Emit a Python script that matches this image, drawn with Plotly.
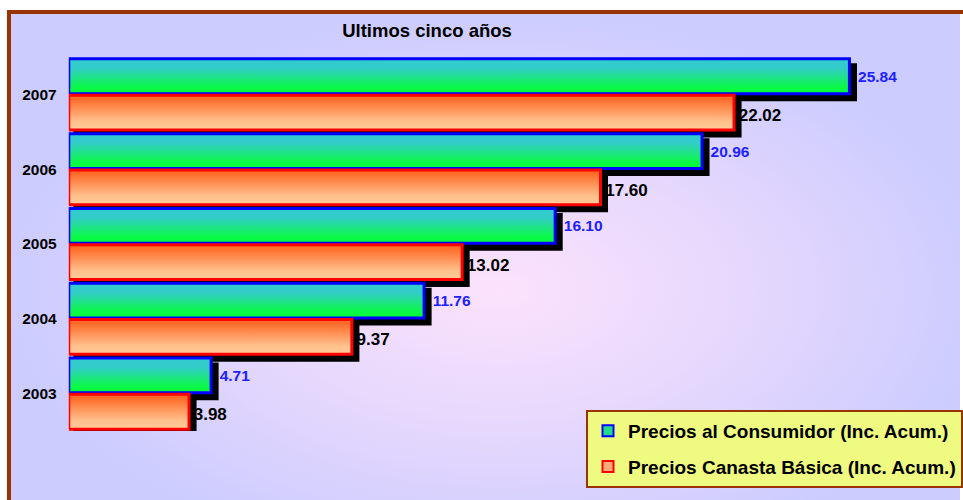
import plotly.graph_objects as go

# data
years = ["2003", "2004", "2005", "2006", "2007"]
consumidor = [4.71, 11.76, 16.10, 20.96, 25.84]
canasta = [3.98, 9.37, 13.02, 17.60, 22.02]
name_consumidor = "Precios al Consumidor (Inc. Acum.)"
name_canasta = "Precios Canasta Básica (Inc. Acum.)"

FONT = "Arial, Liberation Sans, sans-serif"
HALF = 0.475      # bar thickness in category units
GAP = 0.01
SH_X, SH_Y = 0.2, 0.08   # drop shadow offset

green_scale = [[0, "#00FF33"], [0.2, "#0CF84A"], [0.75, "#33CCCC"], [1, "#33CCCC"]]
orange_scale = [[0, "#FFCC99"], [0.25, "#FFC08C"], [0.9, "#FF6A28"], [1, "#FF6A28"]]

pos = list(range(len(years)))

fig = go.Figure()

# background with radial lavender/pink gradient (pixel-like axes)
fig.add_trace(go.Scatter(
    x=[9, 991, 991, 9, 9], y=[12, 12, 568, 568, 12],
    mode="lines", fill="toself", line=dict(width=0),
    fillgradient=dict(type="radial",
                      colorscale=[[0, "#FCE2FC"], [0.5, "#E6D8FD"], [1, "#CCCCFF"]]),
    hoverinfo="skip", showlegend=False, xaxis="x", yaxis="y"))


def rect(v, y0, y1, dx=0.0, dy=0.0):
    return [dx, v + dx, v + dx, dx, dx], [y0 + dy, y0 + dy, y1 + dy, y1 + dy, y0 + dy]


# shadows first
for i, p in enumerate(pos):
    for v, y0, y1 in [(consumidor[i], p + GAP, p + HALF), (canasta[i], p - HALF, p - GAP)]:
        xs, ys = rect(v, y0, y1, SH_X, -SH_Y)
        fig.add_trace(go.Scatter(x=xs, y=ys, mode="lines", fill="toself",
                                 fillcolor="black", line=dict(color="black", width=3),
                                 hoverinfo="skip", showlegend=False,
                                 xaxis="x2", yaxis="y2"))

# gradient bars
for i, p in enumerate(pos):
    xs, ys = rect(consumidor[i], p + GAP, p + HALF)
    fig.add_trace(go.Scatter(x=xs, y=ys, mode="lines", fill="toself",
                             fillgradient=dict(type="vertical", colorscale=green_scale),
                             line=dict(color="#0000FF", width=3),
                             name=name_consumidor, showlegend=False,
                             xaxis="x2", yaxis="y2"))
    xs, ys = rect(canasta[i], p - HALF, p - GAP)
    fig.add_trace(go.Scatter(x=xs, y=ys, mode="lines", fill="toself",
                             fillgradient=dict(type="vertical", colorscale=orange_scale),
                             line=dict(color="#FF0000", width=3),
                             name=name_canasta, showlegend=False,
                             xaxis="x2", yaxis="y2"))

# value labels
fig.add_trace(go.Scatter(
    x=consumidor, y=[p + 0.22 for p in pos], mode="text",
    text=["  " + f"{v:.2f}" for v in consumidor], textposition="middle right",
    textfont=dict(family=FONT, size=15.5, color="#2020FF", weight="bold"),
    showlegend=False, hoverinfo="skip", xaxis="x2", yaxis="y2"))
fig.add_trace(go.Scatter(
    x=canasta, y=[p - 0.30 for p in pos], mode="text",
    text=[" " + f"{v:.2f}" for v in canasta], textposition="middle right",
    textfont=dict(family=FONT, size=17, color="black", weight="bold"),
    showlegend=False, hoverinfo="skip", xaxis="x2", yaxis="y2"))

# legend entries
fig.add_trace(go.Scatter(x=[None], y=[None], mode="markers", name=name_consumidor,
                         legendgroup="a",
                         marker=dict(symbol="square", size=11, color="#22DD88",
                                     line=dict(color="#0000FF", width=2)),
                         xaxis="x2", yaxis="y2"))
fig.add_trace(go.Scatter(x=[None], y=[None], mode="markers", name=name_canasta,
                         legendgroup="b",
                         marker=dict(symbol="square", size=11, color="#FFAA77",
                                     line=dict(color="#FF0000", width=2)),
                         xaxis="x2", yaxis="y2"))

fig.update_layout(
    width=963, height=500,
    margin=dict(l=0, r=0, t=0, b=0),
    paper_bgcolor="white", plot_bgcolor="rgba(0,0,0,0)",
    font=dict(family=FONT, color="black"),
    title=dict(text="<b>Ultimos cinco años</b>", x=427 / 963, y=1 - 31 / 500,
               xanchor="center", yanchor="middle",
               font=dict(family=FONT, size=18.5, color="black")),
    xaxis=dict(domain=[0, 1], range=[0, 963], visible=False, fixedrange=True),
    yaxis=dict(domain=[0, 1], range=[500, 0], visible=False, fixedrange=True),
    xaxis2=dict(domain=[69 / 963, 1], range=[0, 29.5], anchor="y2",
                showgrid=False, zeroline=False, showticklabels=False),
    yaxis2=dict(domain=[1 - 431 / 500, 1 - 57 / 500], range=[-0.5, 4.5], anchor="x2",
                tickvals=pos, ticktext=years, ticks="outside", ticklen=8,
                tickcolor="rgba(0,0,0,0)", showgrid=False, zeroline=False,
                showline=False,
                tickfont=dict(family=FONT, size=15.5, color="black", weight="bold")),
    showlegend=True,
    legend=dict(x=588 / 963, y=1 - 410 / 500, xanchor="left", yanchor="top",
                bgcolor="#EEFA80", bordercolor="#993300", borderwidth=2,
                traceorder="grouped", tracegroupgap=8, itemwidth=30,
                font=dict(family=FONT, size=19, color="black", weight="bold")),
    shapes=[dict(type="rect", xref="paper", yref="paper",
                 x0=9 / 963, x1=1.02, y0=-0.02, y1=1 - 12 / 500,
                 line=dict(color="#993300", width=4), layer="above")],
)

# page body margin would shift the fixed-size figure
fig.write_html("out.html", config={"displayModeBar": False},
               post_script="document.body.style.margin = '0';")
